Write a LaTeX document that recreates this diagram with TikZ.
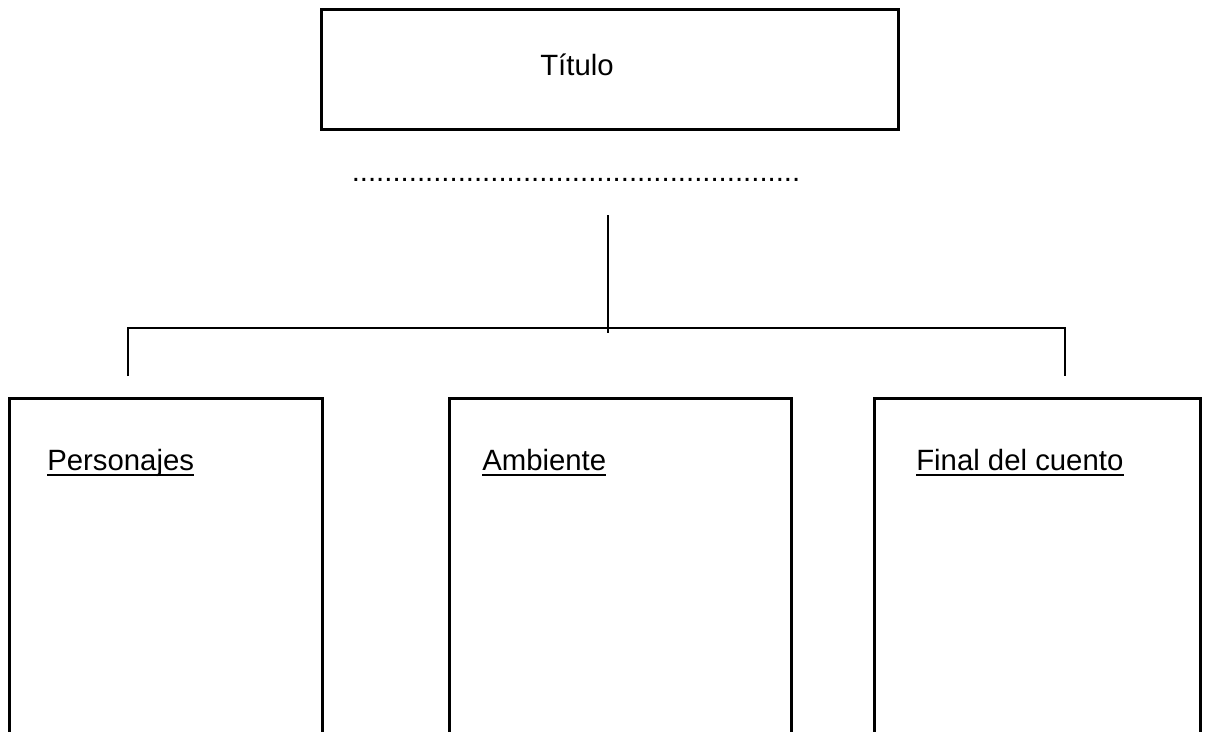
\documentclass[tikz,border=0pt]{standalone}
\usepackage{fontspec}
\setmainfont{Liberation Sans}
\begin{document}
\begin{tikzpicture}[x=0.75pt,y=-0.75pt,
  box/.style={draw=black,line width=2.3pt,inner sep=0pt,anchor=north west},
  lbl/.style={inner sep=0pt,anchor=base west,font=\fontsize{22}{26}\selectfont},
  conn/.style={draw=black,line width=1.7pt},
  ul/.style={draw=black,line width=1.5pt}]
\useasboundingbox (0,0) rectangle (1205,731);
\clip (0,0) rectangle (1205,731);
% title box
\node[box,minimum width=577*0.75pt,minimum height=120*0.75pt] (title) at (320,8) {};
\node[lbl] (titletext) at (540,76) {Título};
% dotted line
\node[lbl] (dots) at (351.5,181) {.......................................................};
% connectors
\coordinate (vtop) at (608,215);
\coordinate (vbot) at (608,333);
\coordinate (hl) at (128,328);
\coordinate (hr) at (1065,328);
\coordinate (dl) at (128,376);
\coordinate (dr) at (1065,376);
\draw[conn] (vtop) -- (vbot);
\draw[conn] (dl) -- (hl) -- (hr) -- (dr);
% lower boxes (open at the bottom)
\node[box,minimum width=313*0.75pt,minimum height=380*0.75pt] (b1) at (8,397) {};
\node[box,minimum width=342*0.75pt,minimum height=380*0.75pt] (b2) at (448,397) {};
\node[box,minimum width=326*0.75pt,minimum height=380*0.75pt] (b3) at (873,397) {};
% labels
\node[lbl] (p1) at (47,470) {Personajes};
\node[lbl] (p2) at (482,470) {Ambiente};
\node[lbl] (p3) at (916,470) {Final del cuento};
\foreach \n in {p1,p2,p3}{
  \draw[ul] ([yshift=-3.5pt]\n.base west) -- ([yshift=-3.5pt]\n.base east);
}
\end{tikzpicture}
\end{document}
